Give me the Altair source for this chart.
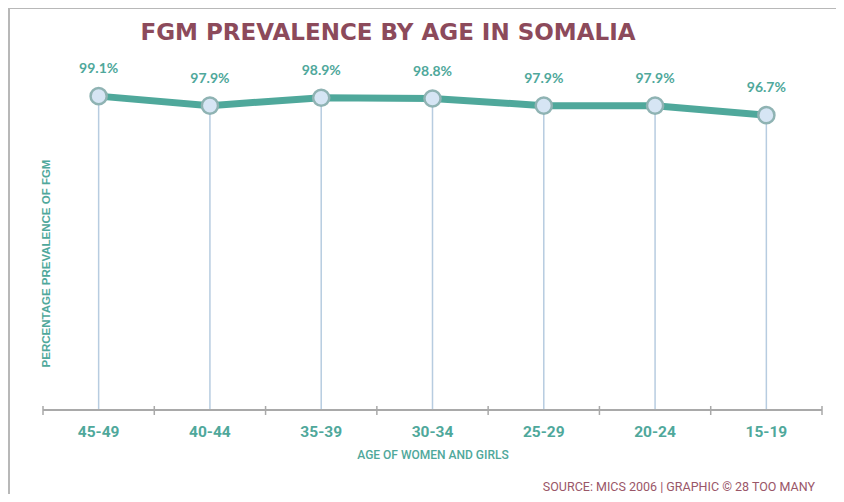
import altair as alt
import pandas as pd

ages = ["45-49", "40-44", "35-39", "30-34", "25-29", "20-24", "15-19"]
prevalence = [99.1, 97.9, 98.9, 98.8, 97.9, 97.9, 96.7]
value_labels = ["99.1%", "97.9%", "98.9%", "98.8%", "97.9%", "97.9%", "96.7%"]

title_text = "FGM PREVALENCE BY AGE IN SOMALIA"
x_title = "AGE OF WOMEN AND GIRLS"
y_title = "PERCENTAGE PREVALENCE OF FGM"
source_text = "SOURCE: MICS 2006 | GRAPHIC \u00a9 28 TOO MANY"

df = pd.DataFrame({"age": ages, "prev": prevalence, "label": value_labels})

W, H = 779, 321
TEAL = "#4fa89b"
MAROON = "#8c4a5b"
NARROW = "Roboto, sans-serif"

xscale = alt.Scale(domain=ages, paddingInner=0, paddingOuter=0)
yscale = alt.Scale(domain=[59.5, 100], nice=False, zero=False)

xaxis = alt.Axis(domain=False, ticks=False, grid=False, labelAngle=0,
                 labelFont=NARROW, labelFontSize=15.5, labelFontWeight="bold",
                 labelColor=TEAL, labelPadding=14,
                 titleFont=NARROW, titleFontSize=12, titleFontWeight=500,
                 titleColor=TEAL, titlePadding=10)
yaxis = alt.Axis(domain=False, ticks=False, labels=False, grid=False,
                 titleFont="Liberation Sans, sans-serif", titleFontSize=11.5,
                 titleFontWeight="bold", titleColor=TEAL,
                 titleX=3, titleY=174, titleAngle=-90, titleBaseline="middle")

X = alt.X("age:N", sort=ages, scale=xscale, axis=xaxis, title=x_title)
Y = alt.Y("prev:Q", scale=yscale, axis=yaxis, title=y_title)

base = alt.Chart(df)
one = pd.DataFrame({"k": [0]})

border = alt.Chart(one).mark_rect(
    fill=None, stroke="#b8b8b8", strokeWidth=2
).encode(x=alt.value(-34), x2=alt.value(795), y=alt.value(-81), y2=alt.value(H + 120))

title = alt.Chart(pd.DataFrame({"t": [title_text]})).mark_text(
    font="DejaVu Sans", fontSize=23, fontWeight="bold", color=MAROON,
    align="center", baseline="middle"
).encode(x=alt.value(345), y=alt.value(-56), text="t:N")

stems = base.mark_rule(color="#b7cce0", strokeWidth=1.5).encode(
    x=X, y=Y, y2=alt.value(H))

ticks = base.mark_rule(color="#a9a9a9", strokeWidth=1.5).encode(
    x=alt.X("age:N", sort=ages, scale=xscale, axis=xaxis, title=x_title, bandPosition=0),
    y=alt.value(H - 4), y2=alt.value(H + 5))

end_tick = alt.Chart(one).mark_rule(
    color="#a9a9a9", strokeWidth=1.5
).encode(x=alt.value(W), y=alt.value(H - 4), y2=alt.value(H + 5))

domain_line = alt.Chart(one).mark_rule(
    color="#a9a9a9", strokeWidth=2
).encode(x=alt.value(0), x2=alt.value(W), y=alt.value(H))

line = base.mark_line(color=TEAL, strokeWidth=7).encode(x=X, y=Y)

points = base.mark_point(filled=True, fill="#d6e5f4", stroke="#8fb3b3",
                         strokeWidth=2.5, size=260, opacity=1, fillOpacity=1).encode(x=X, y=Y)

labels = base.mark_text(font="Lato", fontSize=14, fontWeight="bold",
                        color=TEAL, dy=-27).encode(x=X, y=Y, text="label:N")

source = alt.Chart(pd.DataFrame({"t": [source_text]})).mark_text(
    font=NARROW, fontSize=12.5, color="#9a5668", align="right", baseline="middle"
).encode(x=alt.value(W - 7), y=alt.value(H + 77), text="t:N")

chart = alt.layer(border, title, stems, ticks, end_tick, domain_line, line, points, labels, source).properties(
    width=W, height=H,
    autosize=alt.AutoSizeParams(type="none"),
    padding={"left": 35, "top": 81, "right": 14, "bottom": 84},
).configure(background="white").configure_view(strokeWidth=0, stroke="transparent")

chart.save("out.html", embed_options={"renderer": "svg", "actions": False})
